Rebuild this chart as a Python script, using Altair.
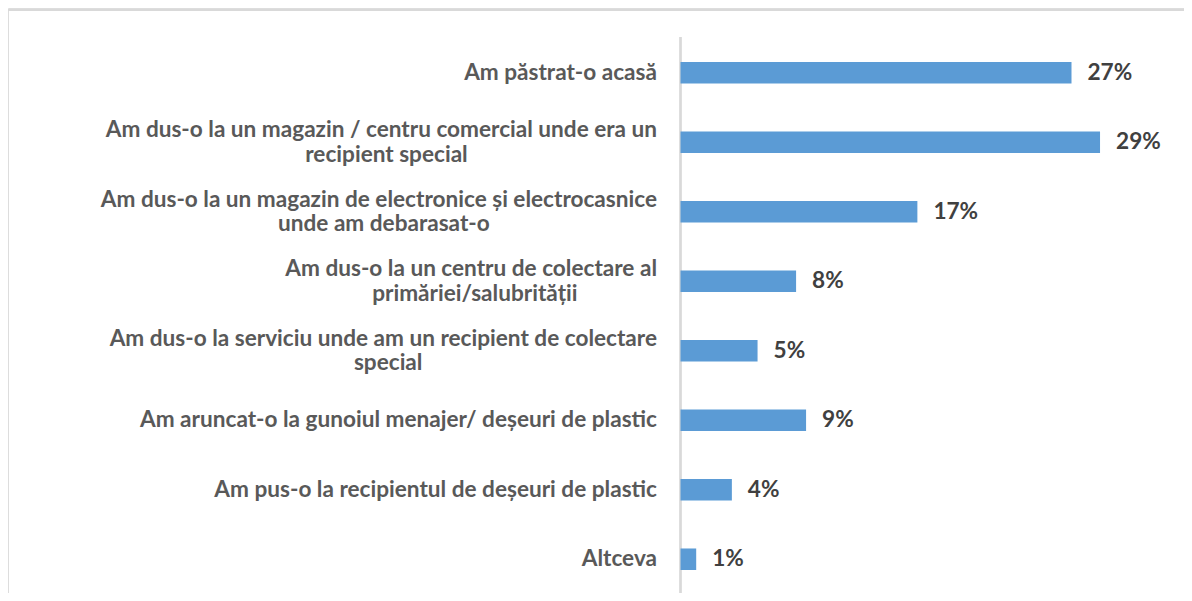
import altair as alt
import pandas as pd

label_lines = [
    ["Am păstrat-o acasă"],
    ["Am dus-o la un magazin / centru comercial unde era un", "recipient special"],
    ["Am dus-o la un magazin de electronice și electrocasnice", "unde am debarasat-o"],
    ["Am dus-o la un centru de colectare al", "primăriei/salubrității"],
    ["Am dus-o la serviciu unde am un recipient de colectare", "special"],
    ["Am aruncat-o la gunoiul menajer/ deșeuri de plastic"],
    ["Am pus-o la recipientul de deșeuri de plastic"],
    ["Altceva"],
]
values = [27.4, 29.4, 16.6, 8.1, 5.4, 8.8, 3.6, 1.1]

FONT = "Lato"
FS = 22.6
PX_PER_UNIT = 14.27
X0 = 672.5
LABEL_GAP = 23.5

# rough Lato Bold advance widths (em) used only to centre second label lines
_w = {' ': 0.20, 'a': 0.51, 'b': 0.57, 'c': 0.46, 'd': 0.57, 'e': 0.53, 'f': 0.34,
      'g': 0.51, 'h': 0.57, 'i': 0.25, 'j': 0.25, 'k': 0.52, 'l': 0.25, 'm': 0.86,
      'n': 0.57, 'o': 0.57, 'p': 0.57, 'r': 0.38, 's': 0.43, 'ș': 0.43, 't': 0.36,
      'ț': 0.36, 'u': 0.57, 'v': 0.52, 'z': 0.46, 'A': 0.69, '-': 0.35, '/': 0.39,
      'ă': 0.51}


def text_w(s):
    return sum(_w.get(c, 0.53) for c in s) * FS


cats = [" ".join(l) for l in label_lines]
df = pd.DataFrame({
    "cat": cats,
    "value": values,
    "label": [f"{round(v)}%" for v in values],
    "line1": [l[0] for l in label_lines],
    "line2": [l[1] if len(l) > 1 else "" for l in label_lines],
    "nlines": [len(l) for l in label_lines],
    "l2x": [-(LABEL_GAP + text_w(l[0]) / 2) / PX_PER_UNIT for l in label_lines],
    "zero": [0.0] * len(values),
})

xscale = alt.Scale(domain=[0, 30], range=[X0, X0 + 30 * PX_PER_UNIT])
yscale = alt.Scale(range=[30, 586], paddingInner=0.69, paddingOuter=0.345)
Y = alt.Y("cat:N", sort=cats, scale=yscale, axis=None)
XZ = alt.X("zero:Q", scale=xscale, axis=None)

base = alt.Chart(df)

bars = base.mark_bar(color="#5B9BD5").encode(
    x=alt.X("value:Q", scale=xscale, axis=None), y=Y
)

axis_line = base.mark_rule(color="#D9D9D9", strokeWidth=1.5).encode(
    x=XZ, y=alt.value(29), y2=alt.value(585)
)

val_text = base.mark_text(
    align="left", baseline="middle", dx=16, font=FONT, fontSize=FS,
    fontWeight="bold", color="#404040"
).encode(x=alt.X("value:Q", scale=xscale, axis=None), y=Y, text="label:N")

one_line = base.transform_filter("datum.nlines == 1").mark_text(
    align="right", baseline="middle", dx=-LABEL_GAP, font=FONT, fontSize=FS,
    fontWeight="bold", color="#595959"
).encode(x=XZ, y=Y, text="line1:N")

two_line_1 = base.transform_filter("datum.nlines == 2").mark_text(
    align="right", baseline="middle", dx=-LABEL_GAP, dy=-12, font=FONT,
    fontSize=FS, fontWeight="bold", color="#595959"
).encode(x=XZ, y=Y, text="line1:N")

two_line_2 = base.transform_filter("datum.nlines == 2").mark_text(
    align="center", baseline="middle", dy=12.5, font=FONT,
    fontSize=FS, fontWeight="bold", color="#595959"
).encode(x=alt.X("l2x:Q", scale=xscale, axis=None), y=Y, text="line2:N")

frame_top = base.mark_rule(color="#D9D9D9", strokeWidth=2).encode(
    x=alt.value(-1), x2=alt.value(1400), y=alt.value(2)
)
frame_left = base.mark_rule(color="#D9D9D9", strokeWidth=2).encode(
    x=alt.value(-1), y=alt.value(2), y2=alt.value(1000)
)

chart = alt.layer(
    frame_top, frame_left, axis_line, bars, val_text, one_line, two_line_1, two_line_2
).properties(
    width=1176, height=585, autosize=alt.AutoSizeParams(type="none"),
    padding={"left": 0, "top": 0, "right": 0, "bottom": 0}
).configure_view(stroke=None).configure(background="white")

chart.save("out.html", embed_options={"renderer": "svg", "actions": False})
